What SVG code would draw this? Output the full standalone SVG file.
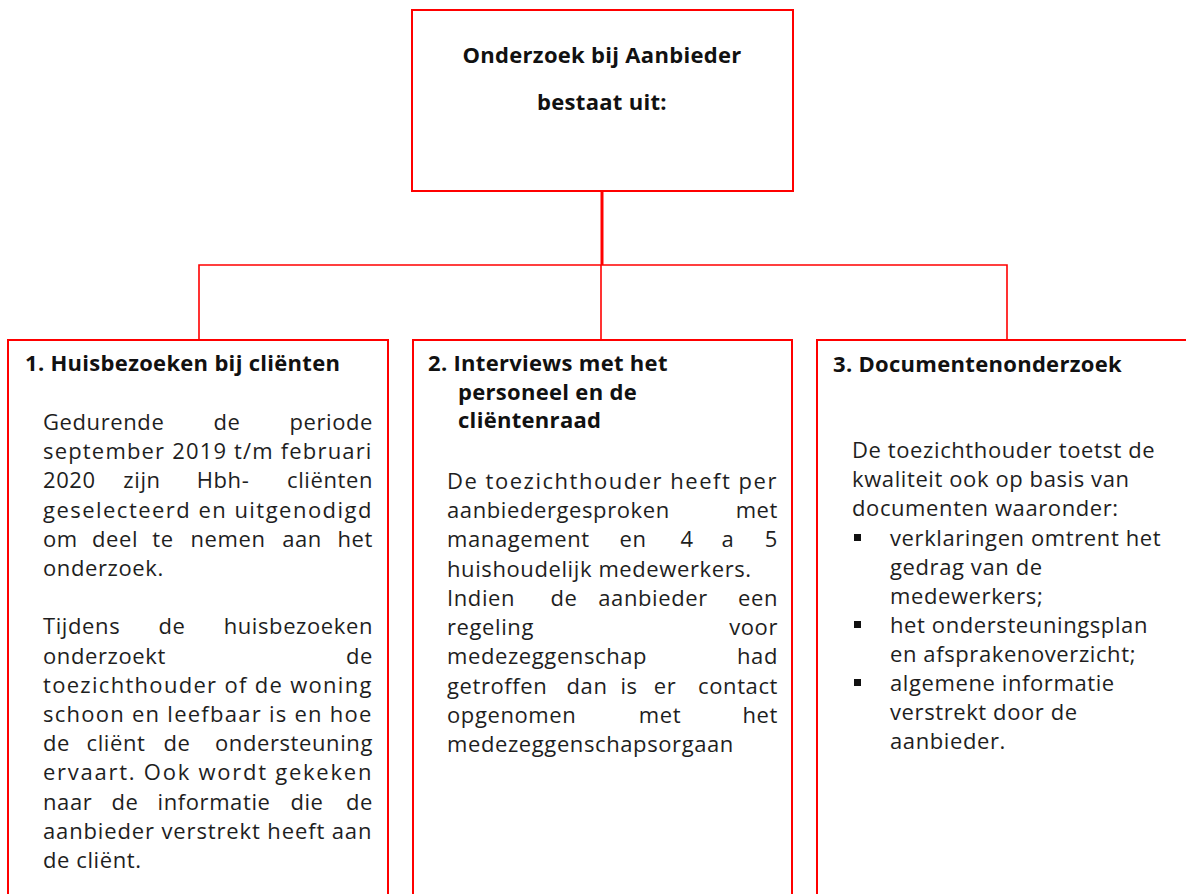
<svg xmlns="http://www.w3.org/2000/svg" width="1186" height="894" viewBox="0 0 1186 894">
<style>
.box{fill:#fff;stroke:#ff0000;stroke-width:2}
.con{fill:none;stroke:#ff0000;stroke-width:1.6}
.trunk{fill:none;stroke:#ff0000;stroke-width:3}
.h{font-family:"Open Sans","Noto Sans",sans-serif;font-size:22px;font-weight:bold;letter-spacing:0.3px;fill:#111}
.b{font-family:"Open Sans","Noto Sans",sans-serif;font-size:22px;letter-spacing:0.6px;fill:#1e1e1e}
.m{text-anchor:middle}
.e{text-anchor:end}
.bul{fill:#111}
</style>
<rect width="1186" height="894" fill="#fff"/>
<g id="connectors">
<path class="trunk" d="M602 191 V265"/>
<path class="con" d="M199 340 V265 H1007 V340"/>
<path class="con" d="M601 265 V340"/>
</g>
<g id="node-top">
<rect class="box" x="412" y="10" width="381" height="181"/>
<text class="h m" x="602" y="63">Onderzoek bij Aanbieder</text>
<text class="h m" x="602" y="110">bestaat uit:</text>
</g>
<g id="node-1">
<rect class="box" x="8" y="340" width="380" height="580"/>
<text class="h" x="25" y="371">1. Huisbezoeken bij cliënten</text>
<text class="b" x="43" y="430">Gedurende</text><text class="b m" x="227" y="430">de</text><text class="b e" x="373" y="430">periode</text>
<text class="b" x="43" y="459" textLength="329" lengthAdjust="spacing">september 2019 t/m februari</text>
<text class="b" x="43" y="488">2020</text><text class="b m" x="142" y="488">zijn</text><text class="b m" x="223" y="488">Hbh-</text><text class="b e" x="373" y="488">cliënten</text>
<text class="b" x="43" y="518" textLength="329" lengthAdjust="spacing">geselecteerd en uitgenodigd</text>
<text class="b" x="43" y="547">om</text><text class="b m" x="115" y="547">deel</text><text class="b m" x="163" y="547">te</text><text class="b m" x="228" y="547">nemen</text><text class="b m" x="302" y="547">aan</text><text class="b e" x="373" y="547">het</text>
<text class="b" x="43" y="576">onderzoek.</text>
<text class="b" x="43" y="634">Tijdens</text><text class="b m" x="172" y="634">de</text><text class="b e" x="373" y="634">huisbezoeken</text>
<text class="b" x="43" y="664">onderzoekt</text><text class="b e" x="373" y="664">de</text>
<text class="b" x="43" y="693" textLength="329" lengthAdjust="spacing">toezichthouder of de woning</text>
<text class="b" x="43" y="722" textLength="329" lengthAdjust="spacing">schoon en leefbaar is en hoe</text>
<text class="b" x="43" y="751">de</text><text class="b m" x="116" y="751">cliënt</text><text class="b m" x="177" y="751">de</text><text class="b e" x="373" y="751">ondersteuning</text>
<text class="b" x="43" y="780" textLength="329" lengthAdjust="spacing">ervaart. Ook wordt gekeken</text>
<text class="b" x="43" y="810">naar</text><text class="b m" x="125" y="810">de</text><text class="b m" x="214" y="810">informatie</text><text class="b m" x="307" y="810">die</text><text class="b e" x="373" y="810">de</text>
<text class="b" x="43" y="839" textLength="329" lengthAdjust="spacing">aanbieder verstrekt heeft aan</text>
<text class="b" x="43" y="868">de cliënt.</text>
</g>
<g id="node-2">
<rect class="box" x="413" y="340" width="379" height="580"/>
<text class="h" x="428" y="371">2. Interviews met het</text>
<text class="h" x="458" y="400">personeel en de</text>
<text class="h" x="458" y="428">cliëntenraad</text>
<text class="b" x="447" y="489" textLength="330" lengthAdjust="spacing">De toezichthouder heeft per</text>
<text class="b" x="447" y="518">aanbiedergesproken</text><text class="b e" x="778" y="518">met</text>
<text class="b" x="447" y="547">management</text><text class="b m" x="633" y="547">en</text><text class="b m" x="687" y="547">4</text><text class="b m" x="728" y="547">a</text><text class="b e" x="778" y="547">5</text>
<text class="b" x="447" y="577">huishoudelijk medewerkers.</text>
<text class="b" x="447" y="606">Indien</text><text class="b m" x="564" y="606">de</text><text class="b m" x="653" y="606">aanbieder</text><text class="b e" x="778" y="606">een</text>
<text class="b" x="447" y="635">regeling</text><text class="b e" x="778" y="635">voor</text>
<text class="b" x="447" y="664">medezeggenschap</text><text class="b e" x="778" y="664">had</text>
<text class="b" x="447" y="694">getroffen</text><text class="b m" x="587" y="694">dan</text><text class="b m" x="629" y="694">is</text><text class="b m" x="665" y="694">er</text><text class="b e" x="778" y="694">contact</text>
<text class="b" x="447" y="723">opgenomen</text><text class="b m" x="660" y="723">met</text><text class="b e" x="778" y="723">het</text>
<text class="b" x="447" y="752">medezeggenschapsorgaan</text>
</g>
<g id="node-3">
<rect class="box" x="817" y="340" width="400" height="580"/>
<text class="h" x="833" y="372">3. Documentenonderzoek</text>
<text class="b" x="852" y="458">De toezichthouder toetst de</text>
<text class="b" x="852" y="487">kwaliteit ook op basis van</text>
<text class="b" x="852" y="516">documenten waaronder:</text>
<rect class="bul" x="854" y="534" width="7" height="7"/>
<text class="b" x="890" y="546">verklaringen omtrent het</text>
<text class="b" x="890" y="575">gedrag van de</text>
<text class="b" x="890" y="604">medewerkers;</text>
<rect class="bul" x="854" y="621" width="7" height="7"/>
<text class="b" x="890" y="633">het  ondersteuningsplan</text>
<text class="b" x="890" y="662">en afsprakenoverzicht;</text>
<rect class="bul" x="854" y="679" width="7" height="7"/>
<text class="b" x="890" y="691">algemene informatie</text>
<text class="b" x="890" y="720">verstrekt door de</text>
<text class="b" x="890" y="749">aanbieder.</text>
</g>
</svg>
